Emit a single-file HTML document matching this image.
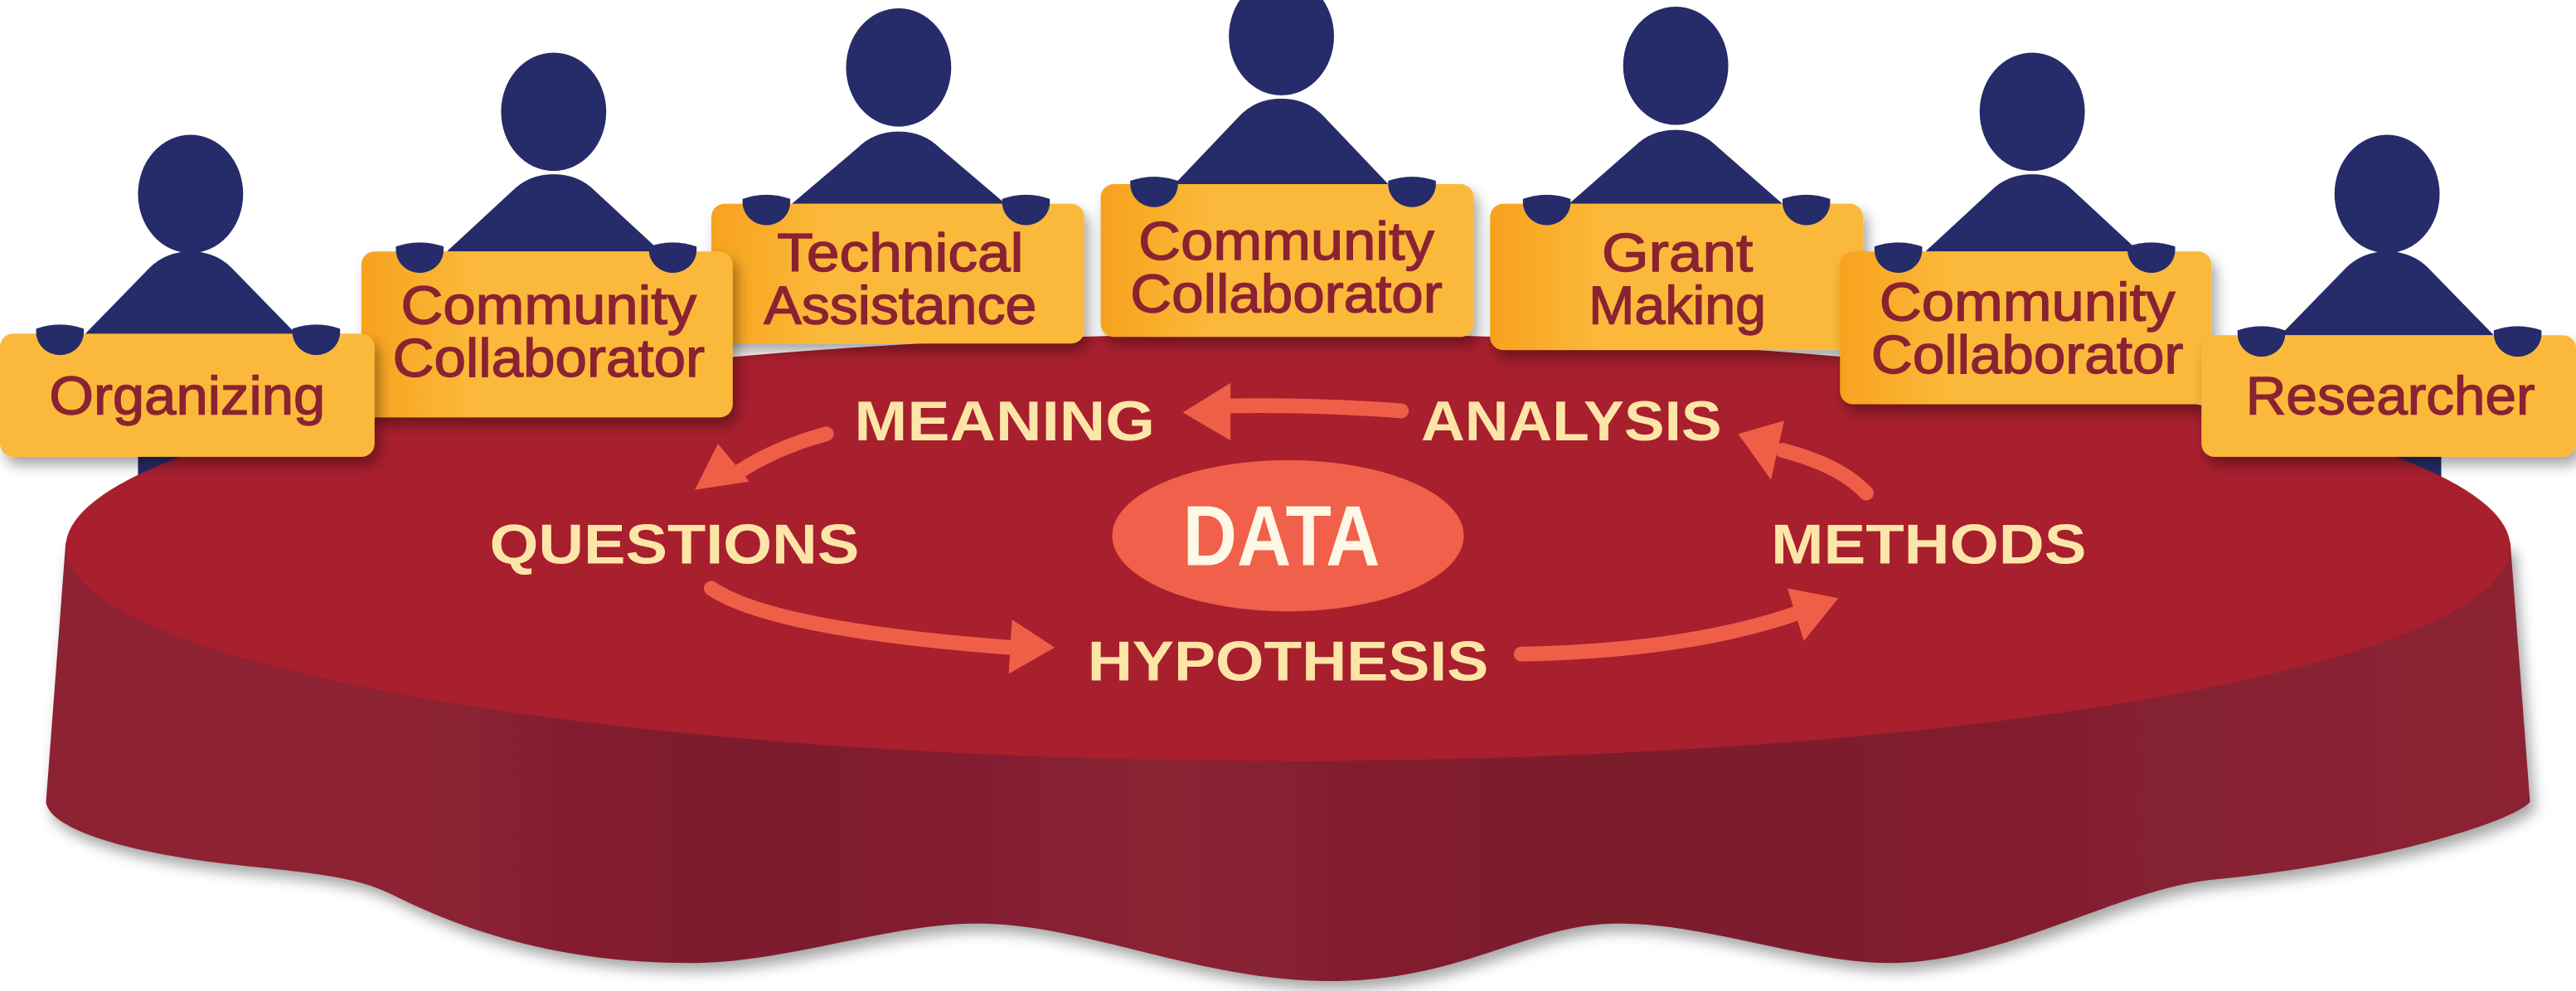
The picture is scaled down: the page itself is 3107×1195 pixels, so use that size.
<!DOCTYPE html>
<html><head><meta charset="utf-8"><style>
html,body{margin:0;padding:0;background:#fff;width:3107px;height:1195px;overflow:hidden}
svg{display:block}
.c{font-family:"Liberation Sans",sans-serif;fill:#8a2232;font-size:33px;stroke:#8a2232;stroke-width:0.7px}
.t{font-family:"Liberation Sans Narrow","Liberation Sans",sans-serif;font-weight:bold;fill:#fde5a8;font-size:34px}
</style></head><body>
<svg width="3107" height="1195" viewBox="0 0 1568 603" xmlns="http://www.w3.org/2000/svg">
<defs>
<linearGradient id="sk" x1="0" x2="1" y1="0" y2="0">
<stop offset="0" stop-color="#8c2232"/><stop offset="0.15" stop-color="#8c2232"/><stop offset="0.28" stop-color="#7b1a2d"/><stop offset="0.45" stop-color="#8a2232"/><stop offset="0.63" stop-color="#7a1a2c"/><stop offset="0.85" stop-color="#842030"/><stop offset="1" stop-color="#8c2232"/>
</linearGradient>
<linearGradient id="cd" x1="0" x2="1" y1="0" y2="0">
<stop offset="0" stop-color="#f7a21e"/><stop offset="0.3" stop-color="#fbb93a"/><stop offset="1" stop-color="#fbb93a"/>
</linearGradient>
<filter id="sh" x="-10%" y="-10%" width="120%" height="130%"><feDropShadow dx="3" dy="5" stdDeviation="4" flood-color="#000" flood-opacity="0.35"/></filter>
<path id="hand" d="M0,2 Q14.5,-3 29,2 L29,4 A14.5,14 0 0 1 0,4 Z" fill="#262b69"/>
</defs>
<rect x="84" y="240" width="66" height="60" fill="#262b69"/>
<rect x="1420" y="240" width="66" height="60" fill="#262b69"/>
<!-- skirt -->
<path filter="url(#sh)" d="M40,330 L28,488 C30,505 80,520 150,527 C200,532 220,535 240,545 C300,575 360,586 420,586 C480,586 540,562 595,562 C660,562 730,597 810,597 C890,597 930,562 985,562 C1040,562 1100,586 1150,586 C1220,586 1290,540 1350,535 C1450,525 1530,500 1540,488 L1528,330 Z" fill="url(#sk)"/>
<ellipse cx="784" cy="333" rx="744" ry="130" fill="#a81f2e"/>

<g>
<ellipse cx="780" cy="22" rx="32" ry="36" fill="#262b69"/>
<path d="M780,60 Q765,60 755,70 L715,112 L845,112 L805,70 Q795,60 780,60Z" fill="#262b69"/>
<rect x="670" y="112" width="227" height="93" rx="8" fill="url(#cd)" filter="url(#sh)"/>
<use href="#hand" x="688" y="108"/><use href="#hand" x="845" y="108"/>
<text class="c" x="783" y="158" text-anchor="middle" textLength="180" lengthAdjust="spacingAndGlyphs">Community</text>
<text class="c" x="783" y="190" text-anchor="middle" textLength="190" lengthAdjust="spacingAndGlyphs">Collaborator</text>
</g>
<g>
<ellipse cx="547" cy="41" rx="32" ry="36" fill="#262b69"/>
<path d="M547,80 Q532,80 522,90 L482,124 L612,124 L572,90 Q562,80 547,80Z" fill="#262b69"/>
<rect x="433" y="124" width="227" height="85" rx="8" fill="url(#cd)" filter="url(#sh)"/>
<use href="#hand" x="452" y="119"/><use href="#hand" x="610" y="119"/>
<text class="c" x="548" y="165" text-anchor="middle" textLength="150" lengthAdjust="spacingAndGlyphs">Technical</text>
<text class="c" x="548" y="197" text-anchor="middle" textLength="166" lengthAdjust="spacingAndGlyphs">Assistance</text>
</g>
<g>
<ellipse cx="1020" cy="40" rx="32" ry="36" fill="#262b69"/>
<path d="M1020,79 Q1005,79 995,89 L955,124 L1085,124 L1045,89 Q1035,79 1020,79Z" fill="#262b69"/>
<rect x="907" y="124" width="227" height="89" rx="8" fill="url(#cd)" filter="url(#sh)"/>
<use href="#hand" x="927" y="119"/><use href="#hand" x="1085" y="119"/>
<text class="c" x="1021" y="165" text-anchor="middle" textLength="92" lengthAdjust="spacingAndGlyphs">Grant</text>
<text class="c" x="1021" y="197" text-anchor="middle" textLength="108" lengthAdjust="spacingAndGlyphs">Making</text>
</g>
<g>
<ellipse cx="337" cy="68" rx="32" ry="36" fill="#262b69"/>
<path d="M337,106 Q322,106 312,116 L272,153 L402,153 L362,116 Q352,106 337,106Z" fill="#262b69"/>
<rect x="220" y="153" width="226" height="101" rx="8" fill="url(#cd)" filter="url(#sh)"/>
<use href="#hand" x="241" y="148"/><use href="#hand" x="395" y="148"/>
<text class="c" x="334" y="197" text-anchor="middle" textLength="180" lengthAdjust="spacingAndGlyphs">Community</text>
<text class="c" x="334" y="229" text-anchor="middle" textLength="190" lengthAdjust="spacingAndGlyphs">Collaborator</text>
</g>
<g>
<ellipse cx="1237" cy="68" rx="32" ry="36" fill="#262b69"/>
<path d="M1237,106 Q1222,106 1212,116 L1172,153 L1302,153 L1262,116 Q1252,106 1237,106Z" fill="#262b69"/>
<rect x="1120" y="153" width="226" height="93" rx="8" fill="url(#cd)" filter="url(#sh)"/>
<use href="#hand" x="1141" y="148"/><use href="#hand" x="1295" y="148"/>
<text class="c" x="1234" y="195" text-anchor="middle" textLength="180" lengthAdjust="spacingAndGlyphs">Community</text>
<text class="c" x="1234" y="227" text-anchor="middle" textLength="190" lengthAdjust="spacingAndGlyphs">Collaborator</text>
</g>
<g>
<ellipse cx="116" cy="118" rx="32" ry="36" fill="#262b69"/>
<path d="M116,153 Q101,153 91,163 L51,204 L181,204 L141,163 Q131,153 116,153Z" fill="#262b69"/>
<rect x="0" y="203" width="228" height="75" rx="8" fill="#fbb93a" filter="url(#sh)"/>
<use href="#hand" x="22" y="198"/><use href="#hand" x="178" y="198"/>
<text class="c" x="114" y="252" text-anchor="middle" textLength="168" lengthAdjust="spacingAndGlyphs">Organizing</text>
</g>
<g>
<ellipse cx="1453" cy="118" rx="32" ry="36" fill="#262b69"/>
<path d="M1453,153 Q1438,153 1428,163 L1388,204 L1518,204 L1478,163 Q1468,153 1453,153Z" fill="#262b69"/>
<rect x="1340" y="204" width="228" height="74" rx="8" fill="#fbb93a" filter="url(#sh)"/>
<use href="#hand" x="1362" y="199"/><use href="#hand" x="1518" y="199"/>
<text class="c" x="1455" y="252" text-anchor="middle" textLength="176" lengthAdjust="spacingAndGlyphs">Researcher</text>
</g>

<ellipse cx="784" cy="326" rx="107" ry="46" fill="#f0604a"/>
<text x="780" y="344" text-anchor="middle" font-family="Liberation Sans Narrow,Liberation Sans,sans-serif" font-weight="bold" font-size="52" fill="#fff8e6" textLength="120" lengthAdjust="spacingAndGlyphs">DATA</text>

<text class="t" x="520" y="268" textLength="183" lengthAdjust="spacingAndGlyphs">MEANING</text>
<text class="t" x="865" y="268" textLength="183" lengthAdjust="spacingAndGlyphs">ANALYSIS</text>
<text class="t" x="298" y="343" textLength="225" lengthAdjust="spacingAndGlyphs">QUESTIONS</text>
<text class="t" x="1078" y="343" textLength="192" lengthAdjust="spacingAndGlyphs">METHODS</text>
<text class="t" x="662" y="414" textLength="244" lengthAdjust="spacingAndGlyphs">HYPOTHESIS</text>

<g fill="none" stroke="#ef5f48" stroke-width="9" stroke-linecap="round">
<path d="M853,250 Q800,246 745,247"/>
<path d="M503,264 Q470,273 447,289"/>
<path d="M433,358 Q470,383 615,394"/>
<path d="M926,398 Q1030,396 1097,372"/>
<path d="M1136,300 Q1120,283 1085,274"/>
</g>
<g fill="#ef5f48">
<polygon points="720,251 749,233 749,268"/>
<polygon points="423,298 437,270 456,293"/>
<polygon points="642,394 616,377 614,410"/>
<polygon points="1119,364 1088,358 1098,390"/>
<polygon points="1058,264 1086,256 1078,292"/>
</g>
</svg>
</body></html>
